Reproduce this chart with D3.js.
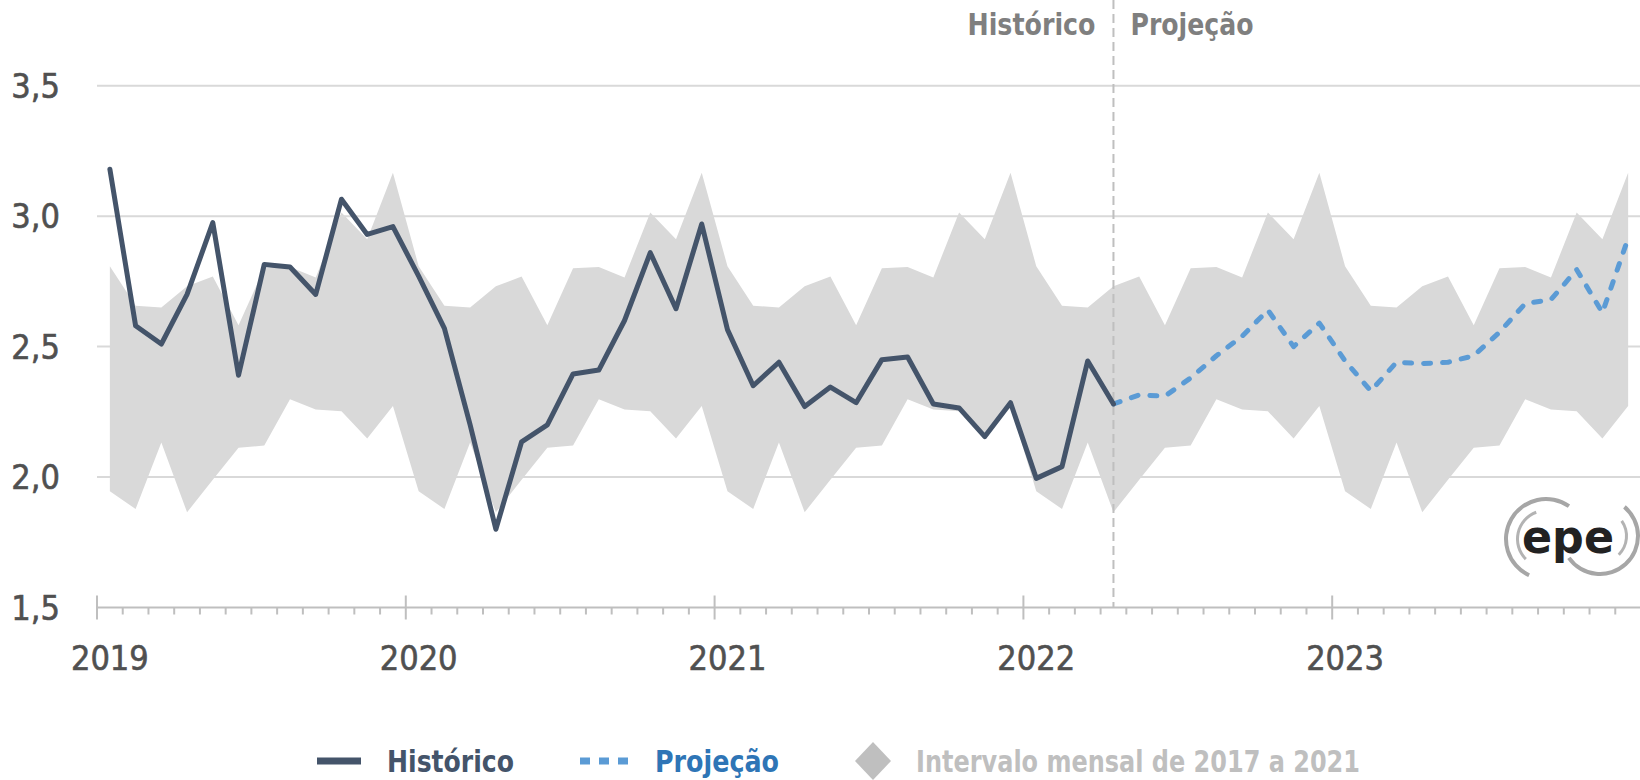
<!DOCTYPE html>
<html><head><meta charset="utf-8">
<script src="https://cdn.jsdelivr.net/npm/d3@7/dist/d3.min.js"></script>
<style>
body{margin:0;background:#fff}
svg{display:block}
text{font-family:"Liberation Sans Narrow","DejaVu Sans Condensed",Roboto,sans-serif}
</style></head><body>
<svg id="chart" width="1640" height="780"></svg>
<script>
// ---- data ----
const years = ["2019", "2020", "2021", "2022", "2023"];
const monthNames = ["jan","fev","mar","abr","mai","jun","jul","ago","set","out","nov","dez"];
const categories = years.flatMap(yr => monthNames.map(m => m + "/" + yr));

// Histórico: jan/2019 .. abr/2022
const historico = [
  3.18, 2.58, 2.51, 2.70, 2.975, 2.39, 2.815, 2.805, 2.70, 3.065, 2.93, 2.96,
  2.77, 2.57, 2.20, 1.80, 2.135, 2.20, 2.395, 2.41, 2.60, 2.86, 2.645, 2.97,
  2.565, 2.35, 2.44, 2.27, 2.345, 2.285, 2.45, 2.46, 2.28, 2.265, 2.155, 2.285,
  1.995, 2.04, 2.445, 2.28
];
// Projeção: abr/2022 .. dez/2023
const projecaoStart = "abr/2022";
const projecao = [
  2.28, 2.315, 2.31, 2.38, 2.465, 2.54, 2.64, 2.50, 2.59,
  2.445, 2.33, 2.44, 2.435, 2.44, 2.465, 2.555, 2.665, 2.68, 2.795, 2.63, 2.915
];
// Intervalo mensal de 2017 a 2021 (mín / máx por mês do ano)
const intervaloMin = [1.946, 1.878, 2.132, 1.865, 1.99, 2.112, 2.121, 2.298, 2.259, 2.252, 2.148, 2.272];
const intervaloMax = [2.808, 2.657, 2.650, 2.731, 2.769, 2.582, 2.80, 2.805, 2.765, 3.014, 2.911, 3.166];

const yTicks = [1.5, 2.0, 2.5, 3.0, 3.5];
const legendItems = ["Histórico", "Projeção", "Intervalo mensal de 2017 a 2021"];

// ---- colors ----
const cHist = "#44546A", cProj = "#5B9BD5", cProjText = "#2E75B6", cBand = "#D9D9D9",
      cGrid = "#D9D9D9", cAxis = "#BFBFBF", cLabel = "#505050", cHead = "#7F7F7F", cLegBand = "#BFBFBF";

const svg = d3.select("#chart");
const W = 1640;
const x0 = 97, x1 = 1641, yTop = 85.7, yBot = 607.5;

const x = d3.scalePoint().domain(categories).range([x0, x1]).padding(0.5);
const xb = d3.scaleBand().domain(categories).range([x0, x1]);
const y = d3.scaleLinear().domain([1.5, 3.5]).range([yBot, yTop]);
const fmt = d3.formatLocale({decimal: ",", thousands: ".", grouping: [3], currency: ["R$", ""]}).format(".1f");

// gridlines
svg.append("g").selectAll("line").data(yTicks.filter(t => t > 1.5)).join("line")
  .attr("x1", x0).attr("x2", W).attr("y1", d => y(d)).attr("y2", d => y(d))
  .attr("stroke", cGrid).attr("stroke-width", 2);

// band
const bandData = categories.map((c, i) => ({c, lo: intervaloMin[i % 12], hi: intervaloMax[i % 12]}));
svg.append("path").datum(bandData)
  .attr("d", d3.area().x(d => x(d.c)).y0(d => y(d.lo)).y1(d => y(d.hi)))
  .attr("fill", cBand);

// divider
const xDiv = x(projecaoStart);
svg.append("line").attr("x1", xDiv).attr("x2", xDiv).attr("y1", 0).attr("y2", yBot)
  .attr("stroke", cAxis).attr("stroke-width", 2).attr("stroke-dasharray", "9,5");

// y labels
svg.append("g").selectAll("text").data(yTicks).join("text")
  .attr("x", 60).attr("y", d => y(d) + 12.3).attr("text-anchor", "end")
  .attr("font-size", 34).attr("fill", cLabel).attr("stroke", cLabel).attr("stroke-width", 0.6)
  .text(d => fmt(d));

// x axis
const ax = svg.append("g");
ax.append("line").attr("x1", x0).attr("x2", W).attr("y1", yBot).attr("y2", yBot)
  .attr("stroke", cAxis).attr("stroke-width", 2);
ax.selectAll("line.tick").data(categories).join("line").attr("class", "tick")
  .attr("x1", d => xb(d)).attr("x2", d => xb(d))
  .attr("y1", d => d.startsWith("jan") ? yBot - 12 : yBot)
  .attr("y2", d => d.startsWith("jan") ? yBot + 12 : yBot + 7)
  .attr("stroke", cAxis).attr("stroke-width", 2);
ax.selectAll("text").data(years).join("text")
  .attr("x", d => x("jan/" + d)).attr("y", 670).attr("text-anchor", "middle")
  .attr("font-size", 34).attr("fill", cLabel).attr("stroke", cLabel).attr("stroke-width", 0.6)
  .text(d => d);

// lines
const line = d3.line().x(d => x(d.c)).y(d => y(d.v));
const histData = historico.map((v, i) => ({c: categories[i], v}));
const p0 = categories.indexOf(projecaoStart);
const projData = projecao.map((v, i) => ({c: categories[p0 + i], v}));
svg.append("path").datum(projData).attr("d", line).attr("fill", "none")
  .attr("stroke", cProj).attr("stroke-width", 5).attr("stroke-linecap", "round")
  .attr("stroke-linejoin", "round").attr("stroke-dasharray", "7,12");
svg.append("path").datum(histData).attr("d", line).attr("fill", "none")
  .attr("stroke", cHist).attr("stroke-width", 5).attr("stroke-linecap", "round")
  .attr("stroke-linejoin", "round");

// headers
svg.append("text").attr("x", xDiv - 18).attr("y", 35).attr("text-anchor", "end")
  .attr("font-size", 30).attr("font-weight", "bold").attr("fill", cHead)
  .attr("textLength", 128).attr("lengthAdjust", "spacingAndGlyphs").text(legendItems[0]);
svg.append("text").attr("x", xDiv + 17).attr("y", 35).attr("text-anchor", "start")
  .attr("font-size", 30).attr("font-weight", "bold").attr("fill", cHead)
  .attr("textLength", 123).attr("lengthAdjust", "spacingAndGlyphs").text(legendItems[1]);

// legend
const lg = svg.append("g");
const ly = 761;
lg.append("line").attr("x1", 317).attr("x2", 361).attr("y1", ly).attr("y2", ly)
  .attr("stroke", cHist).attr("stroke-width", 7);
lg.append("text").attr("x", 387).attr("y", ly + 11).attr("font-size", 30).attr("font-weight", "bold")
  .attr("fill", cHist).attr("textLength", 127).attr("lengthAdjust", "spacingAndGlyphs").text(legendItems[0]);
lg.append("line").attr("x1", 580).attr("x2", 628).attr("y1", ly).attr("y2", ly)
  .attr("stroke", cProj).attr("stroke-width", 7).attr("stroke-dasharray", "10,9");
lg.append("text").attr("x", 655).attr("y", ly + 11).attr("font-size", 30).attr("font-weight", "bold")
  .attr("fill", cProjText).attr("textLength", 124).attr("lengthAdjust", "spacingAndGlyphs").text(legendItems[1]);
lg.append("path").attr("d", `M873,${ly-19} L891,${ly} L873,${ly+19} L855,${ly} Z`).attr("fill", cLegBand);
lg.append("text").attr("x", 916).attr("y", ly + 11).attr("font-size", 30).attr("font-weight", "bold")
  .attr("fill", cLegBand).attr("textLength", 444).attr("lengthAdjust", "spacingAndGlyphs").text(legendItems[2]);

// logo
const logo = svg.append("g");
const arc = d3.arc();
const deg = Math.PI / 180;
logo.append("path").attr("transform", "translate(1546,539)")
  .attr("d", arc({innerRadius: 38, outerRadius: 42, startAngle: 205 * deg, endAngle: 395 * deg}))
  .attr("fill", "#a6a6a6");
logo.append("path").attr("transform", "translate(1546,539)")
  .attr("d", arc({innerRadius: 27, outerRadius: 30, startAngle: 225 * deg, endAngle: 340 * deg}))
  .attr("fill", "#b3b3b3");
logo.append("path").attr("transform", "translate(1600,536)")
  .attr("d", arc({innerRadius: 36, outerRadius: 40, startAngle: 40 * deg, endAngle: 235 * deg}))
  .attr("fill", "#a6a6a6");
logo.append("path").attr("transform", "translate(1600,536)")
  .attr("d", arc({innerRadius: 25, outerRadius: 28, startAngle: 55 * deg, endAngle: 135 * deg}))
  .attr("fill", "#b3b3b3");
logo.append("text").attr("x", 1568).attr("y", 553).attr("text-anchor", "middle")
  .attr("font-family", "DejaVu Sans, sans-serif").attr("font-size", 46).attr("font-weight", "bold")
  .attr("fill", "#222").attr("textLength", 92).attr("lengthAdjust", "spacingAndGlyphs").text("epe");
</script>
</body></html>
